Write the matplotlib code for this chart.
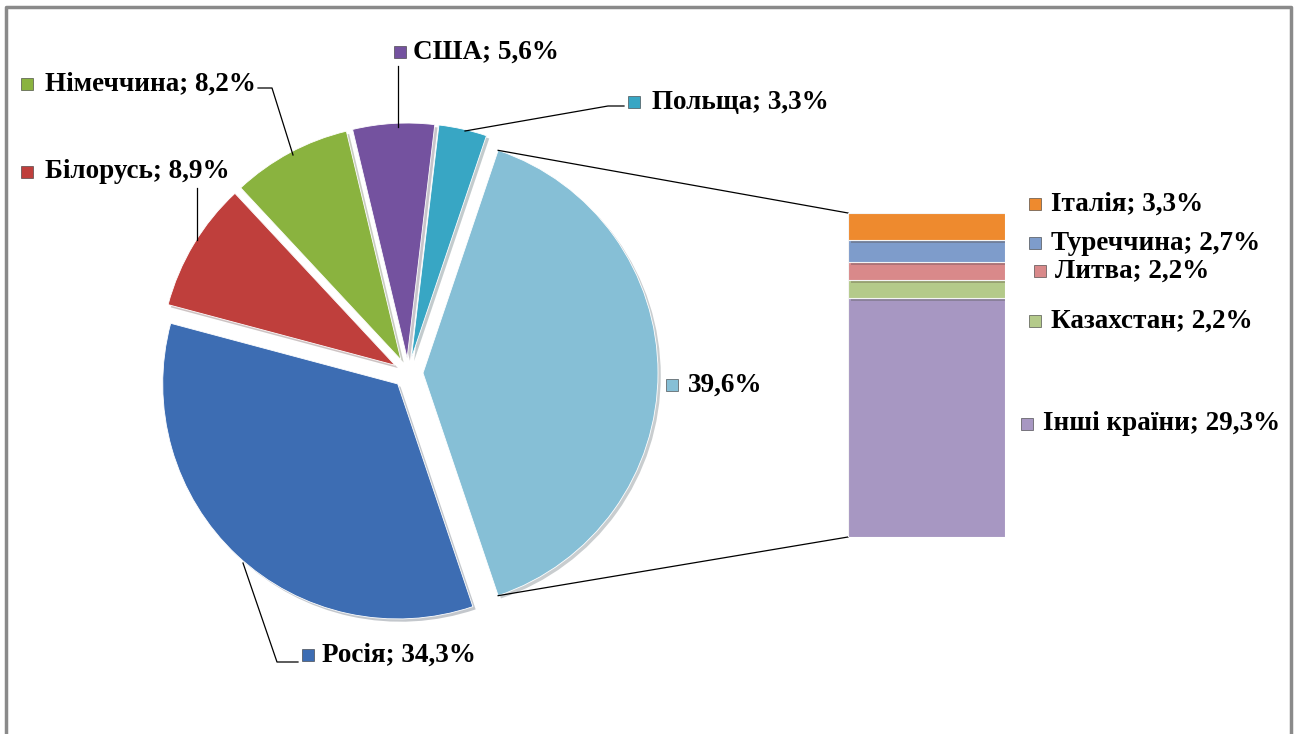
import matplotlib.pyplot as plt
import matplotlib.patheffects as pe
import numpy as np

# main pie data (order as read clockwise from top)
countries = ['Росія', 'Білорусь', 'Німеччина', 'США', 'Польща']
shares = [34.3, 8.9, 8.2, 5.6, 3.3]
other_share = 39.6
pie_colors = ['#3D6DB3', '#BF3F3C', '#8AB33F', '#74529F', '#38A6C4']
other_color = '#86BFD6'

# bar (breakdown of "other")
sub_countries = ['Італія', 'Туреччина', 'Литва', 'Казахстан', 'Інші країни']
sub_shares = [3.3, 2.7, 2.2, 2.2, 29.3]
sub_colors = ['#EE8A2E', '#7E9CCB', '#D9898A', '#B4CA8A', '#A797C2']

W, H = 1297, 734
fig = plt.figure(figsize=(W / 100, H / 100), dpi=100)
ax = fig.add_axes([0, 0, 1, 1])

def Y(y):
    # image row -> data y
    return H - y

font = dict(family='Liberation Serif', weight='bold', size=19.5, color='black')
shadow = [pe.SimplePatchShadow(offset=(2, -2), alpha=0.25), pe.Normal()]

# pie: "other" slice sits on the right, others go counter-clockwise from it
vals = [other_share] + shares[::-1]
cols = [other_color] + pie_colors[::-1]
total = sum(vals)
start = -other_share / total * 180
cx, cy, R, ex = 408, Y(373), 235, 15
wedges, _ = ax.pie(vals, colors=cols, startangle=start, counterclock=True,
                   explode=[ex] * len(vals), radius=R, center=(cx, cy),
                   wedgeprops=dict(edgecolor='#ffffff', linewidth=0.6))
for w in wedges:
    w.set_path_effects(shadow)

# stacked bar for the "other" slice
bx, bw, btop, bbot = 848, 157, 213, 537
bax = fig.add_axes([bx / W, Y(bbot) / H, bw / W, (bbot - btop) / H])
bottom = 0
for v, c in zip(sub_shares[::-1], sub_colors[::-1]):
    b = bax.bar(0.5, v, width=1, bottom=bottom, color=c, edgecolor='#f4f4f4', linewidth=0.8)
    b[0].set_path_effects(shadow)
    bottom += v
bax.set_xlim(0, 1)
bax.set_ylim(0, sum(sub_shares))
bax.axis('off')

# connectors from the "other" slice to the bar
th = np.deg2rad(-start)
ox = cx + ex
ax.plot([ox + R * np.cos(th), bx], [cy + R * np.sin(th), Y(btop)], color='black', lw=0.9)
ax.plot([ox + R * np.cos(th), bx], [cy - R * np.sin(th), Y(bbot)], color='black', lw=0.9)

# labels: (marker x, y, text x)
def label(mx, my, tx, text, color):
    ax.plot(mx, Y(my), marker='s', ms=8, color=color, mec='#333333', mew=0.4)
    ax.text(tx, Y(my), text, ha='left', va='center', **font)

lab_pos = {'Росія': (308, 655, 322), 'Білорусь': (27, 172, 45),
           'Німеччина': (27, 84, 45), 'США': (400, 52, 413), 'Польща': (634, 102, 652)}
for name, v, c in zip(countries, shares, pie_colors):
    mx, my, tx = lab_pos[name]
    label(mx, my, tx, f'{name}; {v:.1f}%'.replace('.', ','), c)
label(672, 385, 688, f'{other_share:.1f}%'.replace('.', ','), other_color)

sub_pos = [(1035, 204, 1051), (1035, 243, 1051), (1040, 271, 1055),
           (1035, 321, 1051), (1027, 424, 1043)]
for (mx, my, tx), name, v, c in zip(sub_pos, sub_countries, sub_shares, sub_colors):
    label(mx, my, tx, f'{name}; {v:.1f}%'.replace('.', ','), c)

# leader lines
leaders = [
    [(398, 66), (398, 127)],
    [(465, 131), (608, 106), (624, 106)],
    [(258, 88), (272, 88), (293, 155)],
    [(197, 188), (197, 240)],
    [(243, 563), (277, 662), (298, 662)],
]
for pts in leaders:
    xs, ys = zip(*pts)
    ax.plot(xs, [Y(y) for y in ys], color='black', lw=0.9)

# frame
ax.plot([6, 6, 1291, 1291], [0, Y(7), Y(7), 0], color='#8a8a8a', lw=2.5)

ax.set_xlim(0, W)
ax.set_ylim(0, H)
ax.axis('off')
fig.savefig('out.png', dpi=100)
